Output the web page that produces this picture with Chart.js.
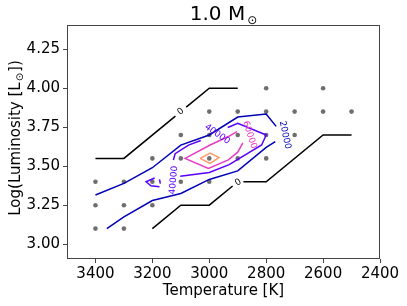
<!DOCTYPE html>
<html>
<head>
<meta charset="utf-8">
<script src="https://cdn.jsdelivr.net/npm/chart.js@4.4.1/dist/chart.umd.min.js"></script>
<style>
  html, body { margin: 0; padding: 0; background: #fff; }
  #wrap { width: 407px; height: 306px; position: relative; }
</style>
</head>
<body>
<div id="wrap"><canvas id="chart"></canvas></div>
<script>
// axis ticks
const xTicks = [3400, 3200, 3000, 2800, 2600, 2400];
const yTicks = [3.00, 3.25, 3.50, 3.75, 4.00, 4.25];

// model grid points (gray dots)
const dotTemp = [2800, 2600,
  3000, 2900, 2800, 2700, 2600, 2500,
  3100, 3000, 2900, 2800, 2700,
  3200, 3100, 3000, 2900, 2800,
  3400, 3300, 3200, 3100, 3000,
  3400, 3300, 3200,
  3400, 3300];
const dotLum = [4.0, 4.0,
  3.85, 3.85, 3.85, 3.85, 3.85, 3.85,
  3.7, 3.7, 3.7, 3.7, 3.7,
  3.55, 3.55, 3.55, 3.55, 3.55,
  3.4, 3.4, 3.4, 3.4, 3.4,
  3.25, 3.25, 3.25,
  3.1, 3.1];

// contour level 0 (two branches, split where the labels sit)
const zeroUpperA = [[3400, 3.55], [3300, 3.55], [3119, 3.821]];
const zeroUpperB = [[3081, 3.879], [3000, 4.0], [2900, 4.0]];
const zeroLowerA = [[3200, 3.1], [3100, 3.25], [3000, 3.25], [2918, 3.373]];
const zeroLowerB = [[2880, 3.4], [2800, 3.4], [2600, 3.7], [2500, 3.7]];

// contour level 20000
const c20kA = [[3400, 3.315], [3300, 3.39], [3200, 3.49], [3100, 3.635], [3000, 3.70],
  [2900, 3.815], [2800, 3.835], [2765, 3.755]];
const c20kB = [[2768, 3.657], [2800, 3.62], [2900, 3.47], [3000, 3.415], [3100, 3.325],
  [3200, 3.28], [3300, 3.175], [3360, 3.10]];

// contour level 40000
const c40kA = [[2935, 3.748], [2900, 3.775], [2800, 3.70], [2816, 3.636], [2894, 3.55],
  [2930, 3.51], [3000, 3.46], [3102, 3.435]];
const c40kB = [[3126, 3.54], [3120, 3.58], [3073, 3.635], [3030, 3.665]];
const c40kIsle = [[3192, 3.424], [3222, 3.40], [3205, 3.374], [3175, 3.368]];
const c40kIsleB = [[3175, 3.415], [3172, 3.388]];

// contour level 60000
const c60k = [[2903, 3.722], [2933, 3.69], [2997, 3.636], [3085, 3.55], [3003, 3.486],
  [2933, 3.54], [2900, 3.59], [2882, 3.65]];

// contour level 80000
const c80k = [[3032, 3.55], [2997, 3.584], [2966, 3.555], [2997, 3.518], [3032, 3.55]];

// inline contour labels
const labelText = ['0', '0', '20000', '40000', '40000', '60000'];
const labelTemp = [3100, 2898, 2734, 2972, 3125, 2858];
const labelLum = [3.85, 3.395, 3.70, 3.705, 3.41, 3.70];

const cBlack = '#000000', c20 = '#0000b8', c40 = '#5800ff', c60 = '#e83dc2', c80 = '#ff9966';
const labelColor = [cBlack, cBlack, c20, c40, c40, c60];
const labelAngle = [-39, -35, 78, 35, -85, 72];

function pts(arr) {
  return arr.map(p => ({ x: p[0], y: p[1] }));
}

function line(arr, color) {
  return {
    type: 'scatter',
    data: pts(arr),
    showLine: true,
    borderColor: color,
    borderWidth: 1.5,
    pointRadius: 0,
    fill: false,
    tension: 0
  };
}

const FONT = "'DejaVu Sans', sans-serif";

const extras = {
  id: 'extras',
  afterDatasetsDraw(chart) {
    const { ctx } = chart;
    const x = chart.scales.x, y = chart.scales.y;
    ctx.save();
    ctx.font = '9px ' + FONT;
    ctx.textAlign = 'center';
    ctx.textBaseline = 'middle';
    labelText.forEach((t, i) => {
      ctx.save();
      ctx.translate(x.getPixelForValue(labelTemp[i]), y.getPixelForValue(labelLum[i]));
      ctx.rotate(labelAngle[i] * Math.PI / 180);
      ctx.fillStyle = labelColor[i];
      ctx.fillText(t, 0, 0);
      ctx.restore();
    });
    ctx.restore();
  },
  afterDraw(chart) {
    const { ctx, chartArea: a } = chart;
    ctx.save();
    // frame
    ctx.strokeStyle = '#444';
    ctx.lineWidth = 1;
    ctx.strokeRect(a.left + 0.5, a.top + 0.5, a.right - a.left - 1, a.bottom - a.top - 1);

    ctx.fillStyle = '#000';
    ctx.textBaseline = 'alphabetic';
    ctx.textAlign = 'left';

    // title with subscript
    ctx.font = '20px ' + FONT;
    const t1 = '1.0 M';
    const w1 = ctx.measureText(t1).width;
    ctx.font = '12px ' + FONT;
    const ws = ctx.measureText('⊙').width;
    let sx = (a.left + a.right) / 2 - (w1 + 2 + ws) / 2;
    ctx.font = '20px ' + FONT;
    ctx.fillText(t1, sx, 20);
    ctx.font = '12px ' + FONT;
    ctx.fillText('⊙', sx + w1 + 2, 24);

    // x title
    ctx.font = '15px ' + FONT;
    ctx.textAlign = 'center';
    ctx.fillText('Temperature [K]', (a.left + a.right) / 2, 295);

    // y title with subscript
    ctx.textAlign = 'left';
    ctx.translate(20, 138);
    ctx.rotate(-Math.PI / 2);
    ctx.font = '15px ' + FONT;
    const p1 = 'Log(Luminosity [L', p3 = '])';
    const wp1 = ctx.measureText(p1).width, wp3 = ctx.measureText(p3).width;
    ctx.font = '10px ' + FONT;
    const wp2 = ctx.measureText('⊙').width;
    const total = wp1 + wp2 + wp3 + 2;
    let px = -total / 2;
    ctx.font = '15px ' + FONT;
    ctx.fillText(p1, px, 0);
    ctx.font = '10px ' + FONT;
    ctx.fillText('⊙', px + wp1 + 1, 3);
    ctx.font = '15px ' + FONT;
    ctx.fillText(p3, px + wp1 + wp2 + 2, 0);
    ctx.restore();
  }
};

new Chart(document.getElementById('chart'), {
  type: 'scatter',
  data: {
    datasets: [
      line(zeroUpperA, cBlack), line(zeroUpperB, cBlack),
      line(zeroLowerA, cBlack), line(zeroLowerB, cBlack),
      line(c20kA, c20), line(c20kB, c20),
      line(c40kA, c40), line(c40kB, c40), line(c40kIsle, c40), line(c40kIsleB, c40),
      line(c60k, c60),
      line(c80k, c80),
      {
        type: 'scatter',
        data: dotTemp.map((t, i) => ({ x: t, y: dotLum[i] })),
        pointRadius: 2.3,
        pointBackgroundColor: '#6e6e6e',
        pointBorderWidth: 0
      }
    ]
  },
  options: {
    responsive: true,
    maintainAspectRatio: false,
    animation: false,
    layout: { padding: { left: 0, top: 25, right: 27, bottom: 0 } },
    plugins: {
      legend: { display: false },
      tooltip: { enabled: false },
      title: { display: false }
    },
    scales: {
      x: {
        type: 'linear',
        reverse: true,
        min: 2400,
        max: 3500,
        afterBuildTicks: (scale) => { scale.ticks = xTicks.map(v => ({ value: v })); },
        afterFit: (scale) => { scale.height = 47; },
        grid: { display: true, drawOnChartArea: false, drawTicks: true, tickLength: 4, color: '#444', lineWidth: 1 },
        border: { display: false },
        ticks: {
          color: '#000',
          font: { family: FONT, size: 15 },
          padding: 2,
          maxRotation: 0,
          callback: (v) => String(v)
        }
      },
      y: {
        type: 'linear',
        min: 2.905,
        max: 4.405,
        afterBuildTicks: (scale) => { scale.ticks = yTicks.map(v => ({ value: v })); },
        afterFit: (scale) => { scale.width = 67; },
        grid: { display: true, drawOnChartArea: false, drawTicks: true, tickLength: 4, color: '#444', lineWidth: 1 },
        border: { display: false },
        ticks: {
          color: '#000',
          font: { family: FONT, size: 15 },
          padding: 3,
          callback: (v) => Number(v).toFixed(2)
        }
      }
    }
  },
  plugins: [extras]
});
</script>
</body>
</html>
